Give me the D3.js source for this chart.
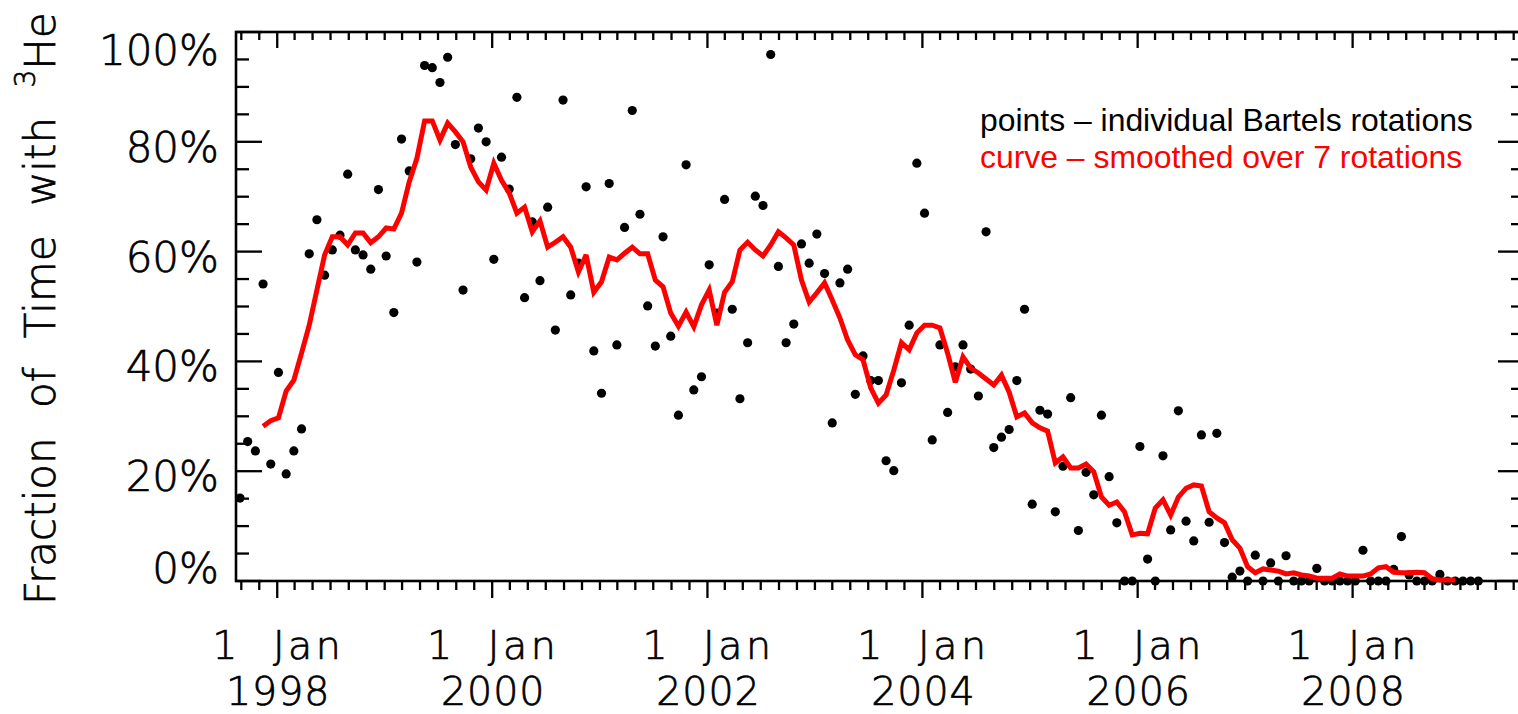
<!DOCTYPE html>
<html><head><meta charset="utf-8">
<script src="https://cdn.jsdelivr.net/npm/d3@7"></script>
<style>body{margin:0;background:#fff}svg{display:block}</style>
</head><body>
<svg id="chart" width="1518" height="714"></svg>
<script>
// ---- data ----
// fraction (%) per individual Bartels rotation, in time order
const pointValues = [
 15.1,25.4,23.7,54.1,21.3,38.0,19.5,23.7,27.7,59.6,
 65.8,55.7,60.3,63.0,74.1,60.3,59.4,56.8,71.3,59.2,
 48.9,80.5,74.7,58.1,93.9,93.5,90.8,95.4,79.5,53.0,
 76.9,82.5,80.0,58.6,77.2,71.4,88.1,51.6,65.4,54.7,
 68.1,45.7,87.6,52.1,57.9,71.8,41.9,34.2,72.4,43.0,
 64.4,85.7,66.8,50.1,42.8,62.7,44.6,30.2,75.8,34.8,
 37.2,57.6,48.8,69.5,49.5,33.2,43.4,70.1,68.4,95.9,
 57.3,43.4,46.8,61.4,57.9,63.2,56.0,28.8,54.3,56.8,
 34.0,41.0,36.5,36.5,21.9,20.1,36.1,46.6,76.1,67.0,
 25.7,43.0,30.7,39.0,43.0,38.6,33.7,63.6,24.3,26.2,
 27.6,36.5,49.5,14.0,31.1,30.4,12.6,20.9,33.4,9.2,
 19.8,15.7,30.2,19.0,10.6,0,0,24.5,4.0,0,
 22.8,9.3,31.0,10.9,7.3,26.6,10.7,26.9,7.0,0.7,
 1.8,0,4.7,0,3.3,0,4.6,0,0,0,
 2.3,0,0,0,0,0,5.6,0,0,0,
 2.1,8.1,1.1,0,0,0,1.2,0,0,0,
 0,0
];
// 7-rotation smoothed curve (%), starting at the 4th rotation
const curveFirstIndex = 3;
const curveValues = [
 28.2,29.2,29.7,34.6,36.6,41.5,46.6,53.0,59.4,62.7,
 62.7,61.2,63.4,63.4,61.6,62.7,64.3,64.1,67.0,72.7,
 77.0,83.8,83.8,80.3,83.4,81.8,80.0,75.4,72.7,71.2,
 76.1,73.0,70.7,67.0,68.1,63.6,65.6,60.8,61.7,62.7,
 60.8,56.3,59.4,52.6,54.5,59.0,58.5,59.7,60.8,59.6,
 59.6,54.8,53.6,48.8,46.4,49.0,46.3,50.3,53.0,46.6,
 52.6,54.5,60.3,61.7,60.3,59.2,61.2,63.6,62.5,61.2,
 54.8,50.8,52.5,54.3,51.2,47.9,43.9,41.2,40.3,35.2,
 32.4,33.9,38.4,43.4,42.1,45.2,46.6,46.6,46.1,41.5,
 36.2,40.8,38.8,37.9,36.8,35.7,37.5,34.4,29.9,30.6,
 28.8,27.9,27.3,21.5,22.6,20.6,20.6,21.3,19.9,15.3,
 13.8,14.4,12.6,8.4,8.7,8.6,13.3,14.8,12.0,15.3,
 16.9,17.5,17.3,12.6,11.5,10.6,7.5,6.0,2.6,1.5,
 2.2,2.0,1.8,1.3,1.5,1.1,0.9,0.5,0.5,0.5,
 1.3,0.9,0.9,0.9,1.3,2.4,2.6,1.6,1.5,1.5,
 1.6,1.5,0.4,0.2,0.2,0.2
];
const firstRotationDate = new Date(1997, 7, 27, 14);
const rotationStepDays = 26.12;
const yTickValues = [0, 20, 40, 60, 80, 100];
const xLabelYears = [1998, 2000, 2002, 2004, 2006, 2008];
const legendLines = ["points \u2013 individual Bartels rotations", "curve \u2013 smoothed over 7 rotations"];
const legendColors = ["#000000", "#ff0000"];

// ---- layout ----
const L = 236, R = 1524, T = 32, B = 581;
const svg = d3.select("#chart");
const x = d3.scaleTime().domain([new Date(1997, 7, 14), new Date(2009, 7, 5)]).range([L, R]);
const y = d3.scaleLinear().domain([0, 100]).range([B, T]);
const dateOf = i => new Date(firstRotationDate.getTime() + i * rotationStepDays * 864e5);

const axisFont = "'DejaVu Sans', sans-serif";
const ink = "#000";
const styleAxisText = sel => sel
  .attr("font-family", axisFont).attr("font-weight", 200)
  .attr("fill", ink).attr("stroke", ink).attr("stroke-width", 0.7);

// frame
const g = svg.append("g");
g.append("rect").attr("x", L).attr("y", T).attr("width", R - L).attr("height", B - T)
  .attr("fill", "none").attr("stroke", ink).attr("stroke-width", 2.6);

// x ticks (every 2 months; major at Jan of even years)
const xt = d3.timeMonth.every(2).range(x.domain()[0], x.domain()[1]);
const isMajor = d => d.getMonth() === 0 && d.getFullYear() % 2 === 0;
g.selectAll(".xb").data(xt).join("line")
  .attr("x1", d => x(d)).attr("x2", d => x(d))
  .attr("y1", B).attr("y2", d => B + (isMajor(d) ? 17 : 9))
  .attr("stroke", ink).attr("stroke-width", 2.3);
g.selectAll(".xt").data(xt).join("line")
  .attr("x1", d => x(d)).attr("x2", d => x(d))
  .attr("y1", T).attr("y2", d => T + (isMajor(d) ? 16 : 8))
  .attr("stroke", ink).attr("stroke-width", 2.3);

// y ticks every 5%
const yt = d3.range(0, 101, 5);
g.selectAll(".yl").data(yt).join("line")
  .attr("x1", L).attr("x2", d => L + (d % 20 === 0 ? 26 : 13))
  .attr("y1", d => y(d)).attr("y2", d => y(d))
  .attr("stroke", ink).attr("stroke-width", 2.3);
g.selectAll(".yr").data(yt).join("line")
  .attr("x1", R).attr("x2", d => R - (d % 20 === 0 ? 26 : 13))
  .attr("y1", d => y(d)).attr("y2", d => y(d))
  .attr("stroke", ink).attr("stroke-width", 2.3);

// y labels
g.selectAll(".ylab").data(yTickValues).join("text")
  .attr("x", 219)
  .attr("y", d => Math.min(Math.max(y(d) + 20, T + 33), B + 2))
  .attr("text-anchor", "end").attr("font-size", 42)
  .call(styleAxisText)
  .text(d => d + "%");

// x labels (two lines)
const xl = g.selectAll(".xlab").data(xLabelYears).join("g")
  .attr("transform", d => `translate(${x(new Date(d, 0, 1)) + 1},0)`);
xl.append("text").attr("y", 659).attr("text-anchor", "middle").attr("font-size", 39.5)
  .attr("letter-spacing", 3.5).style("white-space", "pre")
  .call(styleAxisText).text("1  Jan");
xl.append("text").attr("y", 705).attr("text-anchor", "middle").attr("font-size", 39.5)
  .attr("letter-spacing", 1)
  .call(styleAxisText).text(d => d);

// y title
const yt2 = svg.append("text")
  .attr("transform", "translate(55,605) rotate(-90)")
  .attr("font-size", 42).attr("word-spacing", 16).style("white-space", "pre")
  .call(styleAxisText);
yt2.append("tspan").text("Fraction of Time with ");
yt2.append("tspan").attr("font-size", 28).attr("dy", -20).text("3");
yt2.append("tspan").attr("dy", 20).text("He");

// points
const pts = pointValues.map((v, i) => ({ d: dateOf(i), v }));
svg.append("g").selectAll("circle").data(pts).join("circle")
  .attr("cx", p => x(p.d)).attr("cy", p => y(p.v)).attr("r", 4.6).attr("fill", "#000");

// smoothed curve
const cpts = curveValues.map((v, i) => ({ d: dateOf(i + curveFirstIndex), v }));
svg.append("path").datum(cpts)
  .attr("d", d3.line().x(p => x(p.d)).y(p => y(p.v)))
  .attr("fill", "none").attr("stroke", "#ff0000").attr("stroke-width", 5)
  .attr("stroke-linejoin", "miter").attr("stroke-miterlimit", 3);

// legend
svg.append("g").selectAll("text").data(legendLines).join("text")
  .attr("x", 980).attr("y", (d, i) => 131 + i * 37)
  .attr("font-family", "'Liberation Sans', Arial, sans-serif").attr("font-size", 31.9)
  .attr("fill", (d, i) => legendColors[i]).text(d => d);
</script>
</body></html>
